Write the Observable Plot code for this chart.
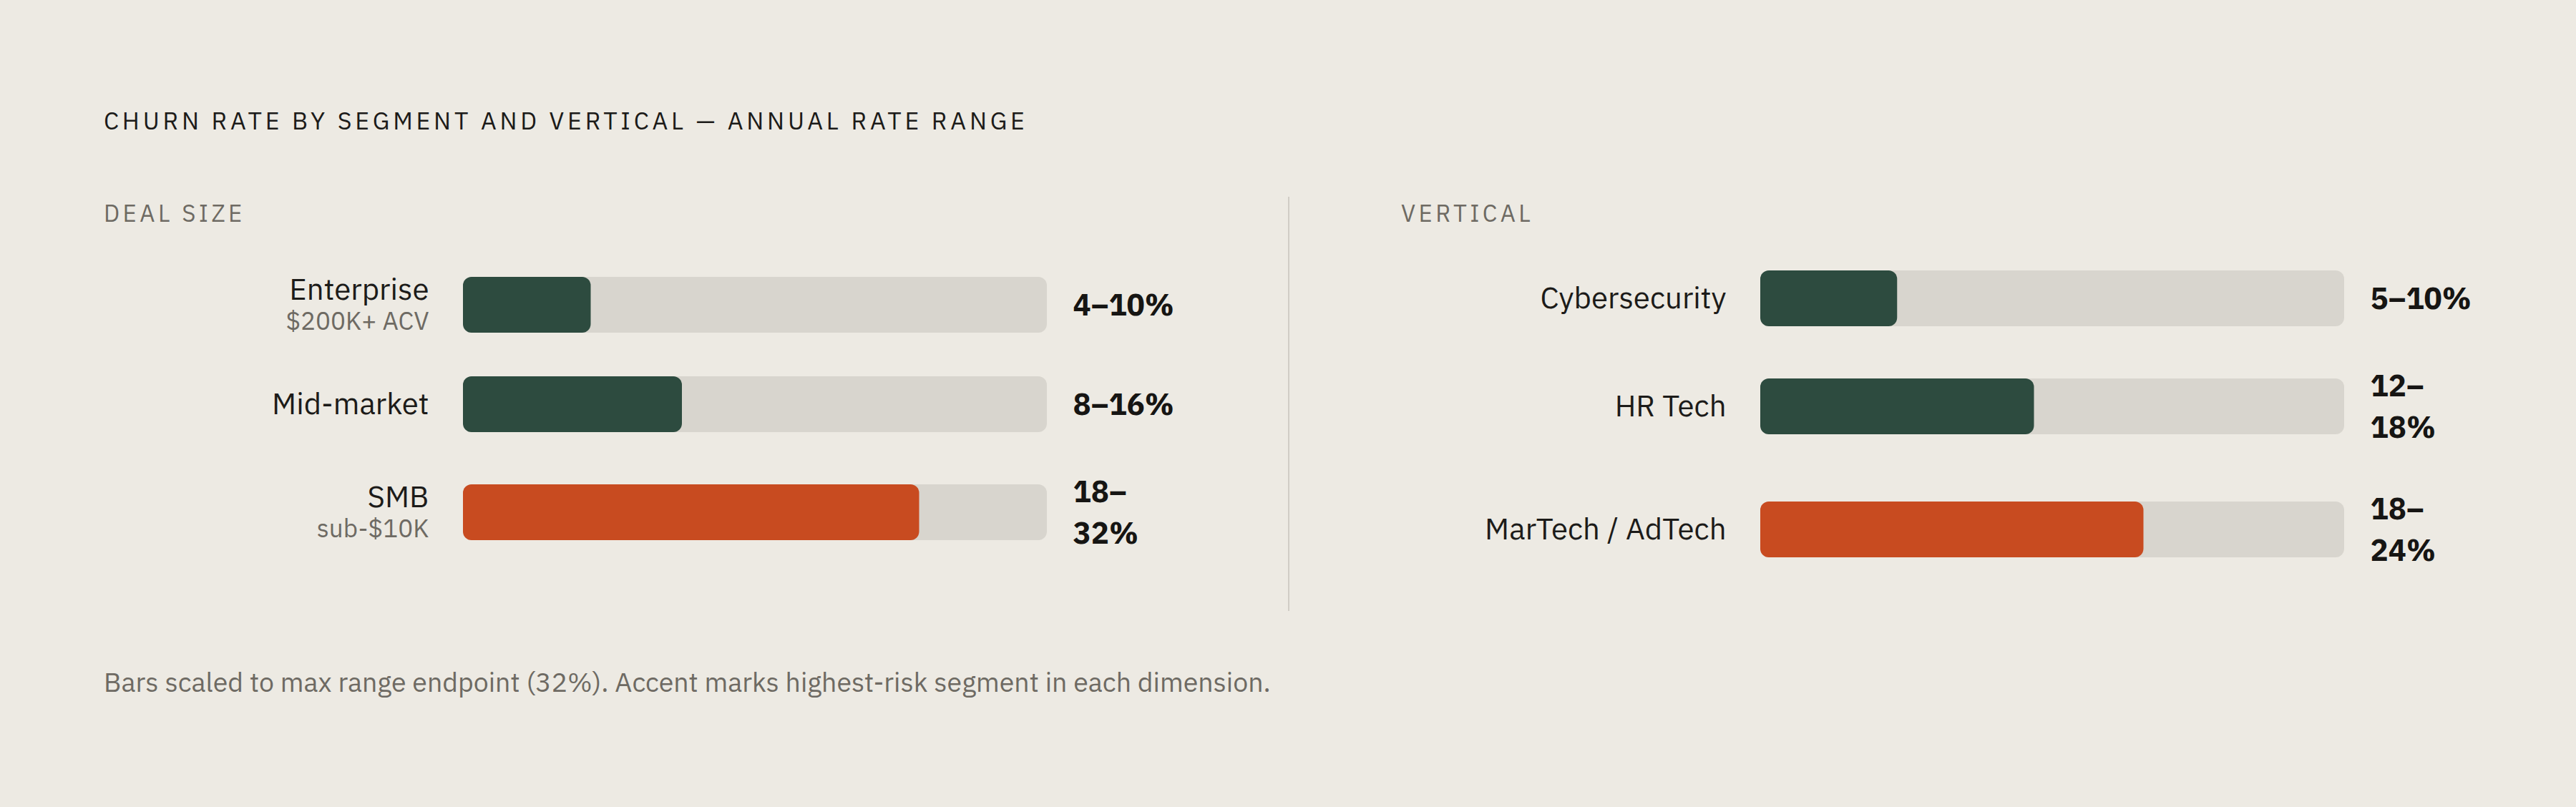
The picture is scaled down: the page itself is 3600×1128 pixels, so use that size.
<!DOCTYPE html>
<html><head><meta charset="utf-8">
<script src="https://cdn.jsdelivr.net/npm/d3@7"></script>
<script src="https://cdn.jsdelivr.net/npm/@observablehq/plot@0.6"></script>
<style>
html,body{margin:0;padding:0;background:#EDEAE3;}
body{width:3600px;height:1128px;overflow:hidden;font-family:"IBM Plex Sans",Inter,sans-serif;}
#wrap{padding:150px 0 0 145px;}
#title{font-size:34px;line-height:36px;height:36px;letter-spacing:0.14em;color:#1c1b19;margin:0;font-weight:400;white-space:nowrap;}
#row{display:flex;margin-top:89px;}
.panel{height:579px;box-sizing:border-box;}
#left{width:1655px;}
#right{width:1800px;padding-left:156px;border-left:2px solid #D0CCC5;}
.plabel{font-size:33px;line-height:36px;letter-spacing:0.135em;color:#6e6a63;padding-top:5px;height:45px;box-sizing:border-box;}
#note{font-size:37.5px;line-height:40px;color:#6e6a63;margin-top:79px;white-space:nowrap;}
svg{display:block;overflow:visible;}
</style>
</head><body>
<div id="wrap">
  <div id="title">CHURN RATE BY SEGMENT AND VERTICAL — ANNUAL RATE RANGE</div>
  <div id="row">
    <div class="panel" id="left"><div class="plabel">DEAL SIZE</div><div id="chartL"></div></div>
    <div class="panel" id="right"><div class="plabel">VERTICAL</div><div id="chartR"></div></div>
  </div>
  <div id="note">Bars scaled to max range endpoint (32%). Accent marks highest-risk segment in each dimension.</div>
</div>
<script>
const dealCats = ["Enterprise", "Mid-market", "SMB"];
const dealSubs = ["$200K+ ACV", "", "sub-$10K"];
const dealLow = [4, 8, 18];
const dealHigh = [10, 16, 32];

const vertCats = ["Cybersecurity", "HR Tech", "MarTech / AdTech"];
const vertSubs = ["", "", ""];
const vertLow = [5, 12, 18];
const vertHigh = [10, 18, 24];

const scaleMax = d3.max([...dealHigh, ...vertHigh]);

const TRACK = "#D8D5CE", BASE = "#2D4B3F", ACCENT = "#C84B20";
const INK = "#1c1b19", MUTED = "#6e6a63";
const FONT = "'IBM Plex Sans', Inter, sans-serif";

// flow-layout metrics (px): each row is as tall as its tallest block
const BAR_H = 78, LABEL2_H = 96, VALUE2_H = 120, GAP = 52, W = 1642, H = 534, TOP = 58;

function rowsOf(cats, subs, lo, hi) {
  const mids = cats.map((c, i) => (lo[i] + hi[i]) / 2);
  const top = d3.maxIndex(mids);
  let cursor = 0;
  return cats.map((c, i) => {
    const wrapped = lo[i] >= 10;
    const h = Math.max(BAR_H, subs[i] ? LABEL2_H : 0, wrapped ? VALUE2_H : 0);
    const center = cursor + h / 2;
    cursor += h + GAP;
    return {
      cat: c, sub: subs[i], lo: lo[i], hi: hi[i], mid: mids[i], accent: i === top,
      c: center, y1: center - BAR_H / 2, y2: center + BAR_H / 2,
      label: wrapped ? `${lo[i]}–\n${hi[i]}%` : `${lo[i]}–${hi[i]}%`
    };
  });
}

function panel(rows) {
  return Plot.plot({
    width: W, height: H,
    marginLeft: 502, marginRight: 324, marginTop: TOP, marginBottom: 0,
    x: {domain: [0, scaleMax], axis: null},
    y: {domain: [0, H - TOP], reverse: true, axis: null},
    style: {background: "transparent", fontFamily: FONT, overflow: "visible"},
    marks: [
      Plot.rect(rows, {y1: "y1", y2: "y2", x1: 0, x2: scaleMax, fill: TRACK, rx: 12}),
      Plot.rect(rows, {y1: "y1", y2: "y2", x1: 0, x2: "mid", fill: d => d.accent ? ACCENT : BASE, rx: 12}),
      Plot.text(rows.filter(d => d.sub), {y: "c", x: 0, text: "cat", dx: -48, dy: -21, textAnchor: "end", fontSize: 42, fill: INK}),
      Plot.text(rows.filter(d => d.sub), {y: "c", x: 0, text: "sub", dx: -48, dy: 23, textAnchor: "end", fontSize: 35, fill: MUTED}),
      Plot.text(rows.filter(d => !d.sub), {y: "c", x: 0, text: "cat", dx: -48, textAnchor: "end", fontSize: 42, fill: INK}),
      Plot.text(rows, {y: "c", x: scaleMax, text: "label", dx: 36, dy: -4, textAnchor: "start", fontSize: 42, fontWeight: 700, lineHeight: 1.38, fill: "#161513"})
    ]
  });
}

document.getElementById("chartL").append(panel(rowsOf(dealCats, dealSubs, dealLow, dealHigh)));
document.getElementById("chartR").append(panel(rowsOf(vertCats, vertSubs, vertLow, vertHigh)));
</script>
</body></html>
